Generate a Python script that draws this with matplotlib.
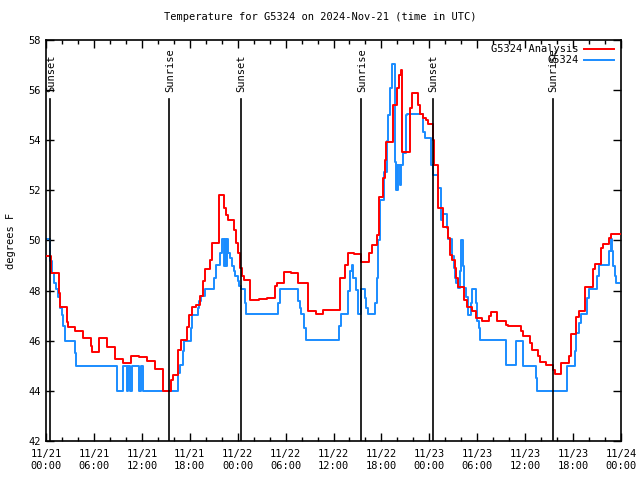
import numpy as np
import matplotlib
matplotlib.use("Agg")
import matplotlib.pyplot as plt

# hours since 2024-11-21 00:00 UTC, step values (deg F)
analysis_t = [0.0, 0.58, 1.63, 1.8, 2.59, 2.75, 3.63, 4.67, 5.59, 5.8, 6.6, 7.67, 8.64, 9.68,
              10.6, 11.64, 12.68, 13.64, 14.64, 15.64, 15.85, 16.56, 16.85, 17.6, 17.94, 18.3,
              18.77, 19.27, 19.6, 19.9, 20.5, 20.8, 21.7, 22.3, 22.5, 22.8, 23.5, 23.8, 24.1,
              24.3, 24.5, 24.8, 25.6, 26.7, 27.7, 28.66, 28.87, 29.8, 30.66, 31.58, 32.83,
              33.8, 34.7, 36.8, 37.4, 37.76, 38.55, 39.5, 40.46, 40.76, 41.4, 41.7, 42.2,
              42.4, 42.55, 43.47, 43.9, 44.2, 44.4, 44.6, 45.56, 45.8, 46.6, 46.8, 47.2,
              47.6, 47.8, 48.47, 48.6, 49.1, 49.75, 50.35, 50.56, 50.9, 51.19, 51.4, 51.6,
              52.4, 52.7, 53.35, 53.8, 54.65, 55.5, 55.7, 56.5, 57.66, 57.86, 59.5, 59.7,
              60.6, 60.8, 61.6, 61.83, 62.6, 63.5, 63.7, 64.55, 65.5, 65.7, 66.33, 66.75,
              67.46, 68.5, 68.7, 69.55, 69.75, 70.5, 70.7, 71.84]
analysis_v = [49.4, 48.7, 47.9, 47.35, 46.75, 46.56, 46.4, 46.1, 45.8, 45.54, 46.1, 45.75, 45.27, 45.1,
              45.4, 45.36, 45.19, 44.87, 44.0, 44.43, 44.63, 45.63, 46.03, 46.56, 47.03, 47.36,
              47.43, 47.8, 48.4, 48.85, 49.22, 49.89, 51.8, 51.3, 51.0, 50.82, 50.4, 49.9, 49.5,
              48.9, 48.6, 48.42, 47.62, 47.66, 47.7, 48.2, 48.3, 48.76, 48.72, 48.3, 47.2,
              47.06, 47.23, 48.49, 49.02, 49.49, 49.45, 49.13, 49.5, 49.82, 50.2, 51.75, 52.5,
              53.2, 53.94, 55.4, 56.07, 56.6, 56.8, 53.54, 55.27, 55.87, 55.4, 55.03, 54.9,
              54.8, 54.65, 54.0, 53.0, 51.28, 50.53, 50.09, 49.42, 49.22, 48.89, 48.49, 48.16,
              47.62, 47.33, 47.2, 46.9, 46.79, 47.0, 47.16, 46.79, 46.63, 46.59, 46.4, 46.19,
              45.9, 45.63, 45.4, 45.16, 45.03, 44.85, 44.67, 45.12, 45.4, 46.26, 46.96, 47.19,
              48.16, 48.85, 49.05, 49.69, 49.86, 50.1, 50.24, 50.24]

station_t = [0.0, 0.5, 0.75, 1.0, 1.3, 1.5, 1.75, 1.95, 2.1, 2.4, 3.6, 3.8, 8.85, 9.64, 10.1,
             10.3, 10.5, 10.8, 11.64, 11.85, 12.1, 16.56, 16.77, 17.1, 17.3, 18.1, 18.3, 19.0,
             19.2, 19.4, 19.9, 21.07, 21.3, 21.8, 22.0, 22.3, 22.4, 22.55, 22.65, 22.8, 23.0,
             23.3, 23.5, 23.7, 24.0, 24.2, 24.47, 24.9, 25.1, 29.0, 29.3, 31.58, 31.75, 31.9,
             32.3, 32.54, 36.7, 37.0, 37.76, 38.05, 38.26, 38.46, 38.8, 39.1, 39.5, 39.97,
             40.1, 40.3, 41.2, 41.4, 41.6, 41.8, 42.3, 42.64, 42.85, 43.1, 43.35, 43.65, 43.8,
             43.9, 44.0, 44.1, 44.3, 44.5, 44.7, 45.05, 45.2, 47.2, 47.45, 48.27, 48.5, 49.1,
             49.5, 49.7, 50.22, 50.4, 50.9, 51.1, 51.25, 51.4, 51.6, 51.8, 52.0, 52.2, 52.4,
             52.6, 52.9, 53.2, 53.4, 53.8, 54.0, 54.2, 54.4, 57.66, 58.8, 59.7, 61.3, 61.45,
             65.24, 66.2, 66.4, 66.75, 66.95, 67.8, 68.0, 69.0, 69.2, 70.5, 70.7, 70.9, 71.05,
             71.25, 71.4, 71.7]
station_v = [50.05, 49.2, 48.7, 48.3, 48.05, 47.76, 47.29, 47.03, 46.6, 46.0, 45.5, 45.0, 44.0, 45.0, 44.0,
             45.0, 44.0, 45.0, 44.0, 45.0, 44.0, 44.7, 45.03, 45.6, 46.0, 46.5, 47.03, 47.3,
             47.6, 47.8, 48.05, 48.5, 49.02, 49.5, 50.05, 49.0, 50.05, 49.0, 50.05, 49.5, 49.3,
             49.0, 48.8, 48.6, 48.4, 48.2, 48.05, 47.5, 47.05, 47.5, 48.05, 47.6, 47.3, 47.06,
             46.5, 46.03, 46.6, 47.06, 48.0, 48.8, 49.02, 48.5, 48.02, 47.06, 48.05, 47.7,
             47.3, 47.06, 47.5, 48.5, 50.0, 51.6, 52.75, 53.95, 55.0, 56.1, 57.03, 53.14, 52.0,
             53.0, 52.0, 53.0, 52.2, 53.0, 53.5, 55.0, 55.03, 54.34, 54.07, 53.0, 52.6, 52.08,
             50.8, 51.06, 50.5, 50.05, 49.4, 48.9, 48.5, 48.3, 48.09, 48.8, 50.0, 49.0, 48.1,
             47.76, 47.03, 47.5, 48.05, 47.5, 46.8, 46.5, 46.03, 45.03, 46.0, 45.0, 44.5, 44.0,
             45.0, 45.6, 46.3, 46.7, 47.05, 47.7, 48.06, 48.6, 49.02, 49.6, 50.05, 49.6, 49.0,
             48.6, 48.3, 48.3]

sun_t = [0.5, 15.4, 24.4, 39.45, 48.4, 63.45]
sun_lbl = ["Sunset", "Sunrise", "Sunset", "Sunrise", "Sunset", "Sunrise"]

xtick_h = list(range(0, 73, 6))
xtick_lbl = ["11/21\n00:00", "11/21\n06:00", "11/21\n12:00", "11/21\n18:00",
             "11/22\n00:00", "11/22\n06:00", "11/22\n12:00", "11/22\n18:00",
             "11/23\n00:00", "11/23\n06:00", "11/23\n12:00", "11/23\n18:00",
             "11/24\n00:00"]

plt.rcParams['font.family'] = ['DejaVu Sans Mono']
plt.rcParams['font.size'] = 7.5

fig = plt.figure(figsize=(6.4, 4.8), dpi=100)
ax = fig.add_axes([0.0719, 0.0813, 0.8984, 0.8354])

red = '#ff0000'
blue = '#1a8cff'

ax.step(station_t, station_v, where='post', color=blue, lw=1.4, label='G5324', zorder=2)
ax.step(analysis_t, analysis_v, where='post', color=red, lw=1.4, label='G5324 Analysis', zorder=3)

# sunrise / sunset markers
for t, lbl in zip(sun_t, sun_lbl):
    ax.plot([t, t], [42, 55.65], color='black', lw=1.2, zorder=4)
    ax.text(t + 0.1, 55.92, lbl, rotation=90, ha='center', va='bottom', fontsize=7.5)

ax.set_xlim(0, 72)
ax.set_ylim(42, 58)
ax.set_xticks(xtick_h)
ax.set_xticklabels(xtick_lbl)
ax.set_xticks(range(0, 73, 2), minor=True)
ax.set_yticks(range(42, 59, 2))
ax.tick_params(axis='both', which='both', direction='in', top=True, right=True)
ax.tick_params(which='major', length=6, width=1)
ax.tick_params(which='minor', length=3, width=1)
ax.tick_params(axis='x', pad=6)
for sp in ax.spines.values():
    sp.set_linewidth(1.2)

ax.set_ylabel('degrees F')
ax.yaxis.set_label_coords(-0.052, 0.5)
fig.suptitle('Temperature for G5324 on 2024-Nov-21 (time in UTC)', y=0.975, fontsize=7.5)

h, l = ax.get_legend_handles_labels()
ax.legend(h[::-1], l[::-1], loc='upper right', frameon=False, markerfirst=False,
          handlelength=2.9, borderaxespad=0.1, borderpad=0.3, labelspacing=0.1,
          handletextpad=0.5, bbox_to_anchor=(0.995, 1.0))

fig.savefig('out.png', dpi=100)
